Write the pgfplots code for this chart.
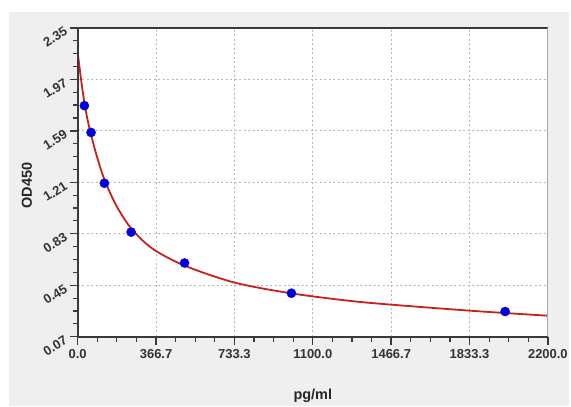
\documentclass[border=0pt]{standalone}
\usepackage{fontspec}
\setmainfont{Liberation Sans}
\usepackage{pgfplots}
\pgfplotsset{compat=1.18}
\definecolor{bggray}{HTML}{EFEFEF}
\definecolor{fitred}{HTML}{C8201C}
\definecolor{axisdark}{HTML}{3A3A3A}
\begin{document}
\begin{tikzpicture}
\fill[bggray] (9pt,0pt) rectangle (571pt,396pt);
\fill[white] (78pt,70pt) rectangle (550pt,380pt);
\begin{axis}[
    at={(78pt,70pt)}, anchor=south west,
    scale only axis, width=472pt, height=310pt,
    xmin=0, xmax=2200, ymin=0.07, ymax=2.35,
    axis lines=left,
    axis line style={-, draw=axisdark, line width=2pt},
    xtick={0,366.7,733.3,1100,1466.7,1833.3,2200},
    xticklabels={0.0,366.7,733.3,1100.0,1466.7,1833.3,2200.0},
    ytick={0.07,0.45,0.83,1.21,1.59,1.97,2.35},
    yticklabels={0.07,0.45,0.83,1.21,1.59,1.97,2.35},
    tick align=outside,
    major tick length=8pt,
    every tick/.style={axisdark, line width=1.4pt},
    xmajorgrids, ymajorgrids,
    major grid style={draw=gray!55, dash pattern=on 2pt off 2.5pt, line width=0.8pt},
    ticklabel style={font=\fontsize{13}{15}\selectfont\bfseries, text=black!80},
    xticklabel style={yshift=-1pt},
    yticklabel style={rotate=32, anchor=east, xshift=-1pt},
    xlabel={pg/ml}, ylabel={OD450},
    label style={font=\fontsize{14.5}{16}\selectfont\bfseries, text=black!85},
    xlabel style={at={(axis description cs:0.5,-0.19)}, anchor=center},
    ylabel style={at={(axis description cs:-0.108,0.49)}, anchor=center},
    clip=false,
]
\addplot[only marks, mark=*, mark size=4.6pt, color=blue, fill=blue!85!black] coordinates {
    (31.25,1.776) (62.5,1.578) (125,1.203) (250,0.842)
    (500,0.614) (1000,0.391) (2000,0.256)
};
\addplot[color=fitred, line width=1.8pt, smooth] coordinates {
    (0,2.17) (10,2.04) (20,1.92) (31.25,1.80) (45,1.68) (62.5,1.56)
    (90,1.40) (125,1.23) (180,1.04) (250,0.87) (350,0.72) (500,0.595)
    (733,0.47) (1000,0.39) (1300,0.33) (1600,0.29) (1900,0.255) (2200,0.225)
};
% frame
\draw[draw=axisdark, line width=2.4pt] (rel axis cs:0,1) -- (rel axis cs:1,1);
\draw[draw=gray!70, line width=0.8pt] (rel axis cs:1,0) -- (rel axis cs:1,1);
\draw[draw=axisdark, line width=1.8pt] (rel axis cs:0,1) -- (rel axis cs:0,0) -- (rel axis cs:1,0);
% ticks
\pgfplotsinvokeforeach{0,366.67,733.33,1100,1466.67,1833.33,2200}{
    \draw[axisdark, line width=1.4pt] (axis cs:#1,0.07) -- ++(0pt,-8pt);}
\pgfplotsinvokeforeach{91.67,183.33,275,458.33,550,641.67,825,916.67,1008.33,
    1191.67,1283.33,1375,1558.33,1650,1741.67,1925,2016.67,2108.33}{
    \draw[axisdark, line width=1.2pt] (axis cs:#1,0.07) -- ++(0pt,-5pt);}
\pgfplotsinvokeforeach{0.07,0.45,0.83,1.21,1.59,1.97,2.35}{
    \draw[axisdark, line width=1.4pt] (axis cs:0,#1) -- ++(-8pt,0pt);}
\pgfplotsinvokeforeach{0.165,0.26,0.355,0.545,0.64,0.735,0.925,1.02,1.115,
    1.305,1.4,1.495,1.685,1.78,1.875,2.065,2.16,2.255}{
    \draw[axisdark, line width=1.2pt] (axis cs:0,#1) -- ++(-5pt,0pt);}
\end{axis}
\fill[white] (0pt,396pt) rectangle (571pt,408pt);
\fill[white] (0pt,0pt) rectangle (9pt,408pt);
\end{tikzpicture}
\end{document}
